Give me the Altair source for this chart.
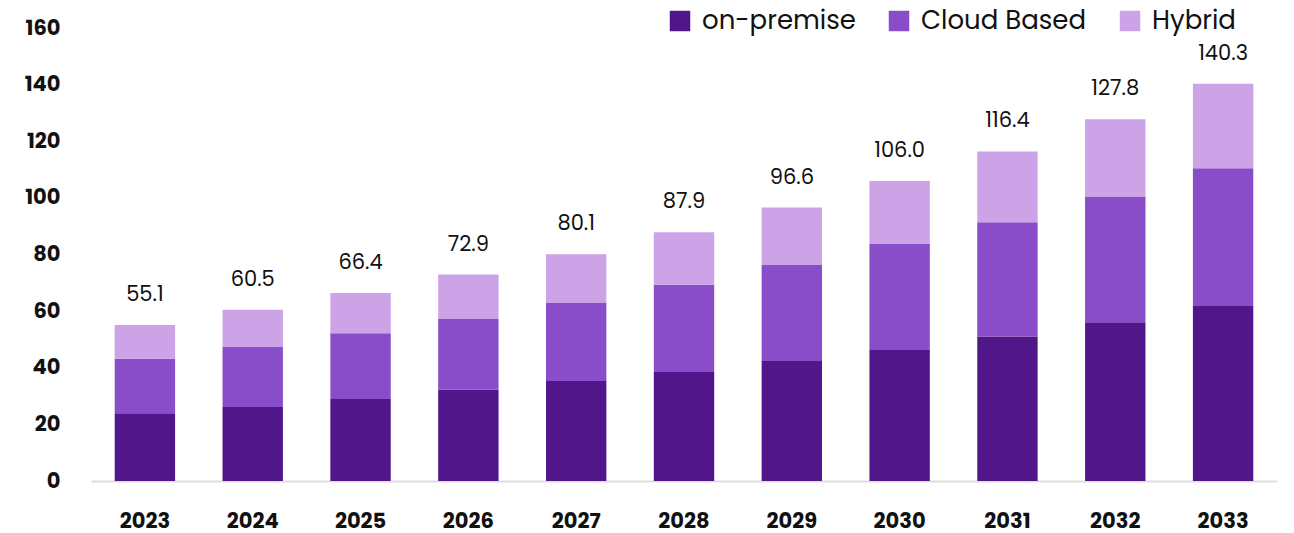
import altair as alt
import pandas as pd

years = ["2023", "2024", "2025", "2026", "2027", "2028", "2029", "2030", "2031", "2032", "2033"]
on_premise = [23.9, 26.1, 29.0, 32.2, 35.3, 38.5, 42.4, 46.3, 51.0, 56.1, 61.8]
cloud_based = [19.3, 21.4, 23.2, 25.0, 27.6, 30.8, 33.9, 37.4, 40.4, 44.4, 48.7]
totals = [55.1, 60.5, 66.4, 72.9, 80.1, 87.9, 96.6, 106.0, 116.4, 127.8, 140.3]
hybrid = [round(t - a - b, 1) for t, a, b in zip(totals, on_premise, cloud_based)]

segments = ["on-premise", "Cloud Based", "Hybrid"]
colors = ["#50168a", "#8a4dca", "#cda3e7"]

rows = []
for i, y in enumerate(years):
    for j, (s, v) in enumerate(zip(segments, [on_premise[i], cloud_based[i], hybrid[i]])):
        rows.append({"year": y, "segment": s, "value": v, "order": j})
df = pd.DataFrame(rows)
tdf = pd.DataFrame({"year": years, "total": totals, "label": [f"{t:.1f}" for t in totals]})

FONT = "Poppins, Inter, Open Sans, sans-serif"

x = alt.X("year:N", title=None, sort=years,
          scale=alt.Scale(paddingInner=0.44, paddingOuter=0.22),
          axis=alt.Axis(labelAngle=0, labelFontSize=21, labelFontWeight="bold",
                        labelColor="#111111", labelFont=FONT, ticks=False,
                        labelPadding=29, domainColor="#dddddd", domainWidth=2))

bars = alt.Chart(df).mark_bar().encode(
    x=x,
    y=alt.Y("value:Q", title=None, stack="zero",
            scale=alt.Scale(domain=[0, 160], nice=False),
            axis=alt.Axis(values=list(range(0, 161, 20)), grid=False, ticks=False,
                          domain=False, labelFontSize=21, labelFontWeight="bold",
                          labelColor="#111111", labelFont=FONT, labelPadding=31)),
    color=alt.Color("segment:N", sort=segments,
                    scale=alt.Scale(domain=segments, range=colors),
                    legend=alt.Legend(title=None, orient="none", direction="horizontal",
                                      legendX=576, legendY=-20, symbolType="square",
                                      symbolSize=420, symbolStrokeWidth=0,
                                      labelFontSize=26, labelFont=FONT, labelLimit=400,
                                      labelColor="#111111", columnPadding=30,
                                      labelOffset=9, symbolOpacity=1)),
    order=alt.Order("order:Q"),
)

text = alt.Chart(tdf).mark_text(baseline="bottom", dy=-20, fontSize=21,
                                font=FONT, color="#111111").encode(
    x=alt.X("year:N", sort=years),
    y=alt.Y("total:Q"),
    text="label:N",
)

chart = (bars + text).properties(
    width=1186, height=453,
    padding={"left": 91, "top": 28, "right": 17, "bottom": 52},
    autosize=alt.AutoSizeParams(type="none"),
    background="white",
).configure_view(stroke=None)

chart.save("out.html", embed_options={"renderer": "svg", "actions": False})
